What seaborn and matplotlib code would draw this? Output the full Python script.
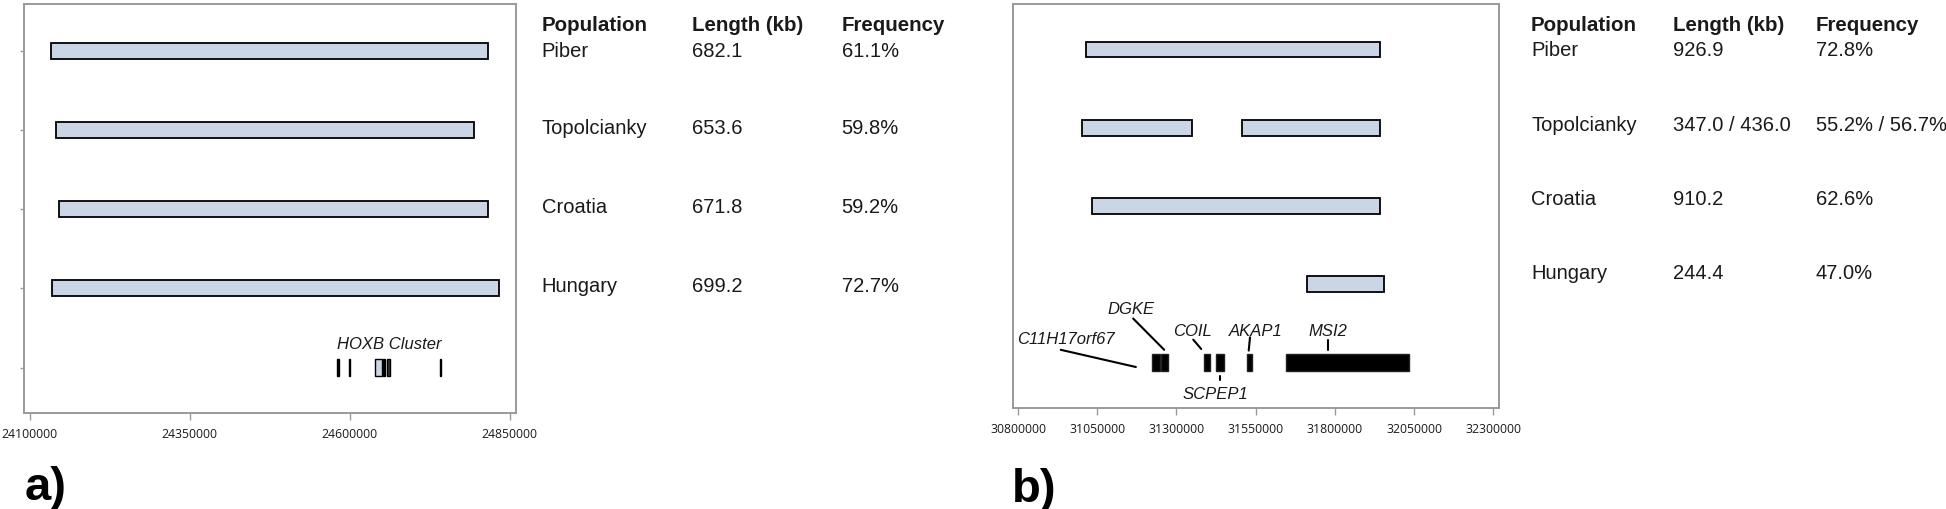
import matplotlib
matplotlib.use("Agg")
import matplotlib.pyplot as plt
import seaborn as sns
import numpy as np

sns.set_theme(style="white")
plt.rcParams['font.family'] = ['Liberation Sans', 'DejaVu Sans']

# ---------------- data ----------------
populations = ["Piber", "Topolcianky", "Croatia", "Hungary"]

# panel a (HOXB region)
a_starts = [24133800, 24140700, 24145000, 24134500]
a_lengths_kb = [682.1, 653.6, 671.8, 699.2]
a_len_labels = ["682.1", "653.6", "671.8", "699.2"]
a_freq_labels = ["61.1%", "59.8%", "59.2%", "72.7%"]
a_xticks = [24100000, 24350000, 24600000, 24850000]

hoxb_starts = [24580500, 24598500, 24640000, 24652000, 24657500, 24740500]
hoxb_ends = [24582500, 24600500, 24650500, 24655500, 24663600, 24742500]
hoxb_fill = ["black", "black", "#cad5e5", "black", "#333333", "black"]

# panel b (MSI2 region)
b_rows = [0, 1, 1, 2, 3]
b_starts = [31016000, 31001000, 31506900, 31032700, 31712000]
b_lengths_kb = [926.9, 347.0, 436.0, 910.2, 244.4]
b_len_labels = ["926.9", "347.0 / 436.0", "910.2", "244.4"]
b_freq_labels = ["72.8%", "55.2% / 56.7%", "62.6%", "47.0%"]
b_xticks = [30800000, 31050000, 31300000, 31550000, 31800000, 32050000, 32300000]

gene_names = ["C11H17orf67", "DGKE", "COIL", "SCPEP1", "AKAP1", "MSI2"]
gene_starts = [31222500, 31250000, 31387800, 31423800, 31521700, 31645900]
gene_ends = [31247800, 31274000, 31405800, 31450000, 31538500, 32032400]

# label layout (x in bp, y in row units)
gene_text_xy = [(30950700, 3.69), (31156100, 3.31), (31349800, 3.59),
                (31421600, 4.40), (31549100, 3.59), (31779600, 3.59)]
gene_line_xy = [((30934900, 3.84), (31172000, 4.06)),
                ((31163400, 3.44), (31261400, 3.84)),
                ((31353000, 3.71), (31378300, 3.83)),
                ((31437400, 4.17), (31437400, 4.23)),
                ((31532200, 3.68), (31528100, 3.85)),
                ((31779600, 3.72), (31779600, 3.84))]

BAR_FILL = "#cad5e5"
SPINE = "#9a9a9a"
TXT = "#1a1a1a"
W, H = 1946, 510

fig = plt.figure(figsize=(W / 100, H / 100), dpi=100)
axa = fig.add_axes([24.3 / W, 1 - 414.3 / H, (516 - 24.3) / W, (414.3 - 5) / H])
axb = fig.add_axes([1012.7 / W, 1 - 409.3 / H, (1499.3 - 1012.7) / W, (409.3 - 5) / H])


def style_axes(ax, xticks, xlim, ylim, yticks=True):
    ax.set_xlim(*xlim)
    ax.set_ylim(*ylim)
    ax.set_xticks(xticks)
    ax.set_xticklabels([str(t) for t in xticks], fontfamily="Open Sans",
                       fontsize=8.8, color=TXT)
    if yticks:
        ax.set_yticks(range(5))
        ax.tick_params(axis="y", left=True, length=3, width=1, color=SPINE,
                       labelleft=False)
    else:
        ax.set_yticks([])
    ax.tick_params(axis="x", bottom=True, length=5, width=1, color=SPINE, pad=5)
    for s in ax.spines.values():
        s.set_color(SPINE)
        s.set_linewidth(1.4)
    ax.grid(False)


# ---------------- panel a ----------------
bar_h = 0.2
axa.barh(range(len(populations)), [l * 1000 for l in a_lengths_kb], left=a_starts,
         height=bar_h, color=BAR_FILL, edgecolor="black", linewidth=1.3, zorder=3)
axa.barh([4] * len(hoxb_starts), np.array(hoxb_ends) - np.array(hoxb_starts),
         left=hoxb_starts, height=0.21, color=hoxb_fill, edgecolor="black",
         linewidth=1.0, zorder=3)
axa.text(24662400, 3.70, "HOXB Cluster", style="italic", fontsize=12,
         ha="center", va="center", color=TXT)
style_axes(axa, a_xticks, (24091560, 24859840), (4.578, -0.59), yticks=True)

# ---------------- panel b ----------------
axb.barh(b_rows, [l * 1000 for l in b_lengths_kb], left=b_starts, height=bar_h,
         color=BAR_FILL, edgecolor="black", linewidth=1.3, zorder=3)
axb.barh([4] * len(gene_names), np.array(gene_ends) - np.array(gene_starts),
         left=gene_starts, height=0.21, color="black", edgecolor="#222222",
         linewidth=1.0, zorder=3)
for name, (tx, ty), ((x0, y0), (x1, y1)) in zip(gene_names, gene_text_xy, gene_line_xy):
    axb.text(tx, ty, name, style="italic", fontsize=12, ha="center", va="center",
             color=TXT)
    axb.plot([x0, x1], [y0, y1], color="black", linewidth=1.5, zorder=4)
style_axes(axb, b_xticks, (30783270, 32318940), (4.588, -0.582), yticks=False)

# ---------------- side tables ----------------
def table(cols_x, rows_y, header_y, len_labels, freq_labels):
    headers = ["Population", "Length (kb)", "Frequency"]
    for hx, htxt in zip(cols_x, headers):
        fig.text(hx / W, 1 - header_y / H, htxt, fontsize=14.8, fontweight="bold",
                 ha="left", va="center", color=TXT)
    for i, pop in enumerate(populations):
        y = 1 - rows_y[i] / H
        for cx, txt in zip(cols_x, [pop, len_labels[i], freq_labels[i]]):
            fig.text(cx / W, y, txt, fontsize=14.5, ha="left", va="center", color=TXT)


table([541.7, 691.7, 841.7], [51.5, 129, 207.5, 286], 25.5, a_len_labels, a_freq_labels)
table([1531, 1673.3, 1816], [50.5, 125.5, 199.5, 273.5], 25.5, b_len_labels, b_freq_labels)

# panel letters
fig.text(25 / W, 1 - 500 / H, "a)", fontsize=34, fontweight="bold", ha="left",
         va="baseline", color="black")
fig.text(1011.7 / W, 1 - 501.7 / H, "b)", fontsize=34, fontweight="bold", ha="left",
         va="baseline", color="black")

fig.savefig("out.png", dpi=100, facecolor="white")
